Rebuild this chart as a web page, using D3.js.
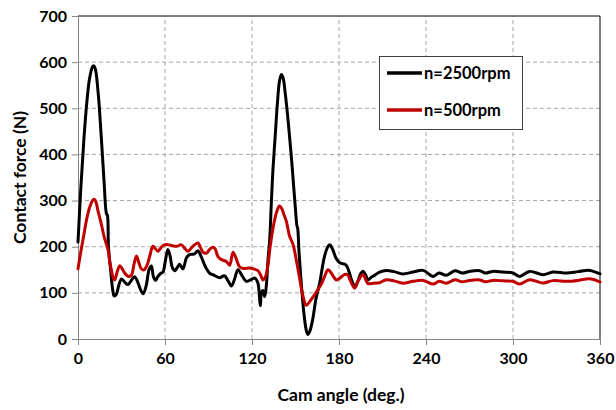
<!DOCTYPE html>
<html>
<head>
<meta charset="utf-8">
<script src="https://cdn.jsdelivr.net/npm/d3@7"></script>
<style>
  html, body { margin: 0; padding: 0; background: #fff; }
  svg { display: block; font-family: Lato, "Open Sans", sans-serif; }
</style>
</head>
<body>
<svg id="chart" width="616" height="410"></svg>
<script>
// Contact force vs cam angle at two engine speeds
const xTicks = [0, 60, 120, 180, 240, 300, 360];
const yTicks = [0, 100, 200, 300, 400, 500, 600, 700];
const seriesNames = ["n=2500rpm", "n=500rpm"];
const seriesColors = ["#000000", "#c00000"];

// n = 2500 rpm : [cam angle (deg), contact force (N)]
const force2500 = [
  [0,210],[2,330],[4,430],[6,510],[8,565],[10,590],[11,592],[12,585],[14,530],[16,440],
  [18,340],[19.6,272],[20.3,268],[21,200],[22.5,150],[24,105],[25,93],[26.5,97],[28,115],
  [30,130],[32.5,122],[34.5,118],[37,128],[39,135],[41,125],[43,108],[45,98],[47,115],
  [49,150],[50.6,158],[52,135],[53.5,127],[55,135],[57,142],[58.6,145],[60,165],[62,194],
  [63.5,180],[65,155],[66.7,148],[68.5,155],[70,162],[72.4,152],[74.8,176],[77,183],
  [80,184],[82.8,191],[85,178],[88.6,152],[91,142],[94,138],[97.7,133],[101,137],
  [103.5,126],[105.8,115],[108,130],[110.3,150],[113,138],[116,125],[119,128],[121.9,132],
  [124,122],[125.3,85],[125.8,72],[126.5,100],[127.5,105],[128.8,92],[130,120],[131,170],
  [132.2,215],[133.4,300],[134.5,370],[136,440],[137.5,510],[139,560],[140.3,573],
  [141.5,565],[143,530],[145,470],[147,400],[149,320],[150.5,260],[151,245],[151.5,240],
  [152.4,190],[154,120],[156,50],[157.5,18],[158.6,10],[160,18],[162,45],[164,85],
  [166.7,122],[168.5,155],[170,179],[172,198],[173.6,204],[175.5,195],[178,175],
  [180.5,165],[183,163],[185,160],[187,145],[189,125],[191,113],[193,125],[195,142],
  [196.6,147],[198.5,138],[200,128],[202,133],[205,139],[208,145],[212.6,148.7],
  [218,146],[224,141],[231,145],[238,148.7],[245,135.7],[249,143],[254,138],[260,148],
  [265,143],[270,146.5],[277,148],[281,143],[286,146.5],[293,145],[300,143],[304.6,135.7],
  [311.5,146.5],[320.7,139.4],[327.6,145.2],[337,143],[345,146],[353,148.7],[360,141]
];

// n = 500 rpm : [cam angle (deg), contact force (N)]
const force500 = [
  [0,152],[2,190],[4,225],[6,260],[8,285],[10,300],[11,303],[12,300],[14,275],[16,250],
  [18,222],[20.7,193],[22,165],[23,150],[24,135],[25.3,128],[27,145],[28.8,159],
  [30.5,152],[32.2,143],[34.5,136],[36.8,138],[38.5,160],[40.3,180],[42,165],[43.7,152],
  [45.5,150],[47.6,160],[49.5,180],[51.7,201],[53.5,195],[55.2,190],[57,197],[59,203],
  [61,205],[64,203],[67.9,201],[71.3,204],[74,195],[75.9,190],[79,200],[82.8,208],
  [84.5,198],[86.2,188],[88.6,186],[91,195],[93.1,199],[94.5,196],[96.6,178],[99,172],
  [102.3,168],[104.6,160],[106.9,188],[109,175],[111.5,156],[114,153],[118.4,154],
  [121,152],[124.1,148],[126,138],[127.6,128],[129.4,136],[131,160],[132.5,200],
  [134.5,240],[136.5,270],[138,284],[139,288],[140.5,283],[142,270],[143.7,255],
  [146,222],[148.3,205],[150.6,170],[152.6,136],[155,95],[157.5,73],[160,82],[163,95],
  [165.5,107],[168,120],[170,135],[172.4,150],[174,146],[176,136],[178.2,128],[181,133],
  [184,140],[186,139],[188,125],[190.8,110],[193,125],[196.6,140],[198.5,128],[200,120],
  [204,121],[208,122],[212.6,128.5],[218,126],[224,121],[231,125],[238,127],[245,119],
  [249,125],[254,121],[260,128.5],[265,124],[270,127],[277,128],[281,124],[286,127],
  [293,126],[300,125],[304.6,119],[311.5,128.5],[320.7,121.5],[327.6,126.5],[337,125],
  [345,127],[353,130.7],[360,123.5]
];

const svg = d3.select("#chart");
const margin = { left: 78, top: 16, right: 16, bottom: 71 };
const W = 616, H = 410;
const x = d3.scaleLinear().domain([0, 360]).range([margin.left, W - margin.right]);
const y = d3.scaleLinear().domain([0, 700]).range([H - margin.bottom, margin.top]);

// dashed grid
const grid = svg.append("g");
grid.selectAll("line.h").data(yTicks.filter(d => d > 0 && d < 700)).enter().append("line")
  .attr("x1", x(0)).attr("x2", x(360))
  .attr("y1", d => y(d)).attr("y2", d => y(d))
  .attr("stroke", "#a6a6a6").attr("stroke-width", 1).attr("stroke-dasharray", "4,3");
grid.selectAll("line.v").data(xTicks.filter(d => d > 0 && d < 360)).enter().append("line")
  .attr("x1", d => x(d)).attr("x2", d => x(d))
  .attr("y1", y(0)).attr("y2", y(700))
  .attr("stroke", "#a6a6a6").attr("stroke-width", 1).attr("stroke-dasharray", "4,3");

// top and right frame
svg.append("path")
  .attr("d", `M${x(0)},${y(700)}H${x(360)}V${y(0)}`)
  .attr("fill", "none").attr("stroke", "#000").attr("stroke-width", 1);

// axes
const yAxis = svg.append("g").attr("transform", `translate(${x(0)},0)`)
  .call(d3.axisLeft(y).tickValues(yTicks).tickSize(6).tickPadding(5).tickFormat(d3.format("d")));
const xAxis = svg.append("g").attr("transform", `translate(0,${y(0)})`)
  .call(d3.axisBottom(x).tickValues(xTicks).tickSize(6).tickPadding(8).tickFormat(d3.format("d")));
[yAxis, xAxis].forEach(a => {
  a.select(".domain").attr("stroke", "#868686");
  a.selectAll(".tick line").attr("stroke", "#868686");
  a.selectAll(".tick text").attr("fill", "#000").style("font-size", "16px")
    .style("font-weight", "bold").style("font-family", "Lato, sans-serif");
});

// curves
const line = d3.line().x(d => x(d[0])).y(d => y(d[1])).curve(d3.curveCatmullRom.alpha(0.5));
[force2500, force500].forEach((data, i) => {
  svg.append("path").datum(data)
    .attr("d", line).attr("fill", "none")
    .attr("stroke", seriesColors[i]).attr("stroke-width", 3)
    .attr("stroke-linejoin", "round").attr("stroke-linecap", "round");
});

// axis titles
svg.append("text").attr("x", 341).attr("y", 401).attr("text-anchor", "middle")
  .style("font-size", "17.5px").style("font-weight", "bold").text("Cam angle (deg.)");
svg.append("text").attr("transform", `translate(26,${(y(0) + y(700)) / 2}) rotate(-90)`)
  .attr("text-anchor", "middle")
  .style("font-size", "17.5px").style("font-weight", "bold").text("Contact force (N)");

// legend
const lg = svg.append("g");
lg.append("rect").attr("x", 379.5).attr("y", 56.5).attr("width", 143).attr("height", 73)
  .attr("fill", "#fff").attr("stroke", "#404040").attr("stroke-width", 1);
seriesNames.forEach((name, i) => {
  const ly = 73 + i * 37;
  lg.append("line").attr("x1", 387).attr("x2", 422).attr("y1", ly).attr("y2", ly)
    .attr("stroke", seriesColors[i]).attr("stroke-width", 3.5);
  lg.append("text").attr("x", 424).attr("y", ly).attr("dy", "0.35em")
    .style("font-size", "16.5px").style("font-weight", "bold").text(name);
});
</script>
</body>
</html>
